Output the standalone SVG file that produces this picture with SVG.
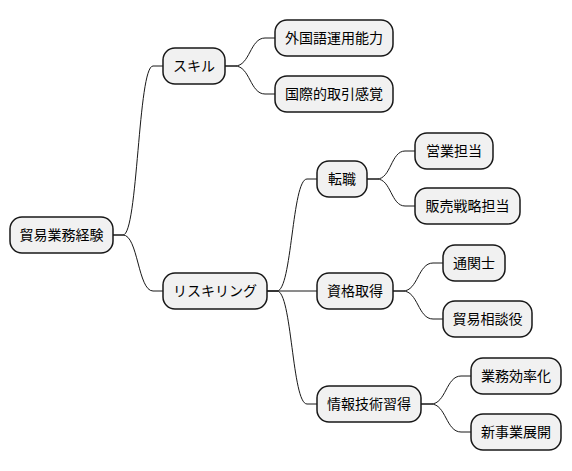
<svg xmlns="http://www.w3.org/2000/svg" width="572" height="471" viewBox="0 0 572 471">
<style>
.n rect{fill:#F1F1F1;stroke:#181818;stroke-width:1.5}
.n text{font-family:"Noto Sans CJK JP","Noto Sans CJK SC",sans-serif;font-size:14px;fill:#000;text-anchor:middle}
.c path{fill:none;stroke:#181818;stroke-width:1}
</style>
<rect width="572" height="471" fill="#FFFFFF"/>
<g class="c">
<path d="M113,235 L123,235 C138,235 138,66 153,66 L163,66"/>
<path d="M113,235 L123,235 C138,235 138,291 153,291 L163,291"/>
<path d="M225,66 L235,66 C250,66 250,38 265,38 L275,38"/>
<path d="M225,66 L235,66 C250,66 250,94 265,94 L275,94"/>
<path d="M267,291 L277,291 C292,291 292,179 307,179 L317,179"/>
<path d="M267,291 L317,291"/>
<path d="M267,291 L277,291 C292,291 292,404 307,404 L317,404"/>
<path d="M367,179 L377,179 C391,179 391,151 405,151 L415,151"/>
<path d="M367,179 L377,179 C391,179 391,206 405,206 L415,206"/>
<path d="M393,291 L403,291 C418,291 418,263 433,263 L443,263"/>
<path d="M393,291 L403,291 C418,291 418,319 433,319 L443,319"/>
<path d="M421,404 L431,404 C446,404 446,376 461,376 L471,376"/>
<path d="M421,404 L431,404 C446,404 446,432 461,432 L471,432"/>
</g>
<g id="root" class="n"><rect x="10" y="217" width="103" height="36" rx="12"/><text x="61.5" y="240">貿易業務経験</text></g>
<g id="skill" class="n"><rect x="163" y="48" width="62" height="36" rx="12"/><text x="194" y="71">スキル</text></g>
<g id="gaikokugo" class="n"><rect x="275" y="20" width="118" height="36" rx="12"/><text x="334" y="43">外国語運用能力</text></g>
<g id="kokusai" class="n"><rect x="275" y="76" width="118" height="36" rx="12"/><text x="334" y="99">国際的取引感覚</text></g>
<g id="reskilling" class="n"><rect x="163" y="273" width="104" height="36" rx="12"/><text x="215" y="296">リスキリング</text></g>
<g id="tenshoku" class="n"><rect x="317" y="161" width="50" height="36" rx="12"/><text x="342" y="184">転職</text></g>
<g id="eigyo" class="n"><rect x="415" y="133" width="78" height="36" rx="12"/><text x="454" y="156">営業担当</text></g>
<g id="hanbai" class="n"><rect x="415" y="188" width="105" height="36" rx="12"/><text x="467.5" y="211">販売戦略担当</text></g>
<g id="shikaku" class="n"><rect x="317" y="273" width="76" height="36" rx="12"/><text x="355" y="296">資格取得</text></g>
<g id="tsukanshi" class="n"><rect x="443" y="245" width="62" height="36" rx="12"/><text x="474" y="268">通関士</text></g>
<g id="soudan" class="n"><rect x="443" y="301" width="89" height="36" rx="12"/><text x="487.5" y="324">貿易相談役</text></g>
<g id="joho" class="n"><rect x="317" y="386" width="104" height="36" rx="12"/><text x="369" y="409">情報技術習得</text></g>
<g id="koritsu" class="n"><rect x="471" y="358" width="90" height="36" rx="12"/><text x="516" y="381">業務効率化</text></g>
<g id="shinjigyo" class="n"><rect x="471" y="414" width="90" height="36" rx="12"/><text x="516" y="437">新事業展開</text></g>
</svg>
